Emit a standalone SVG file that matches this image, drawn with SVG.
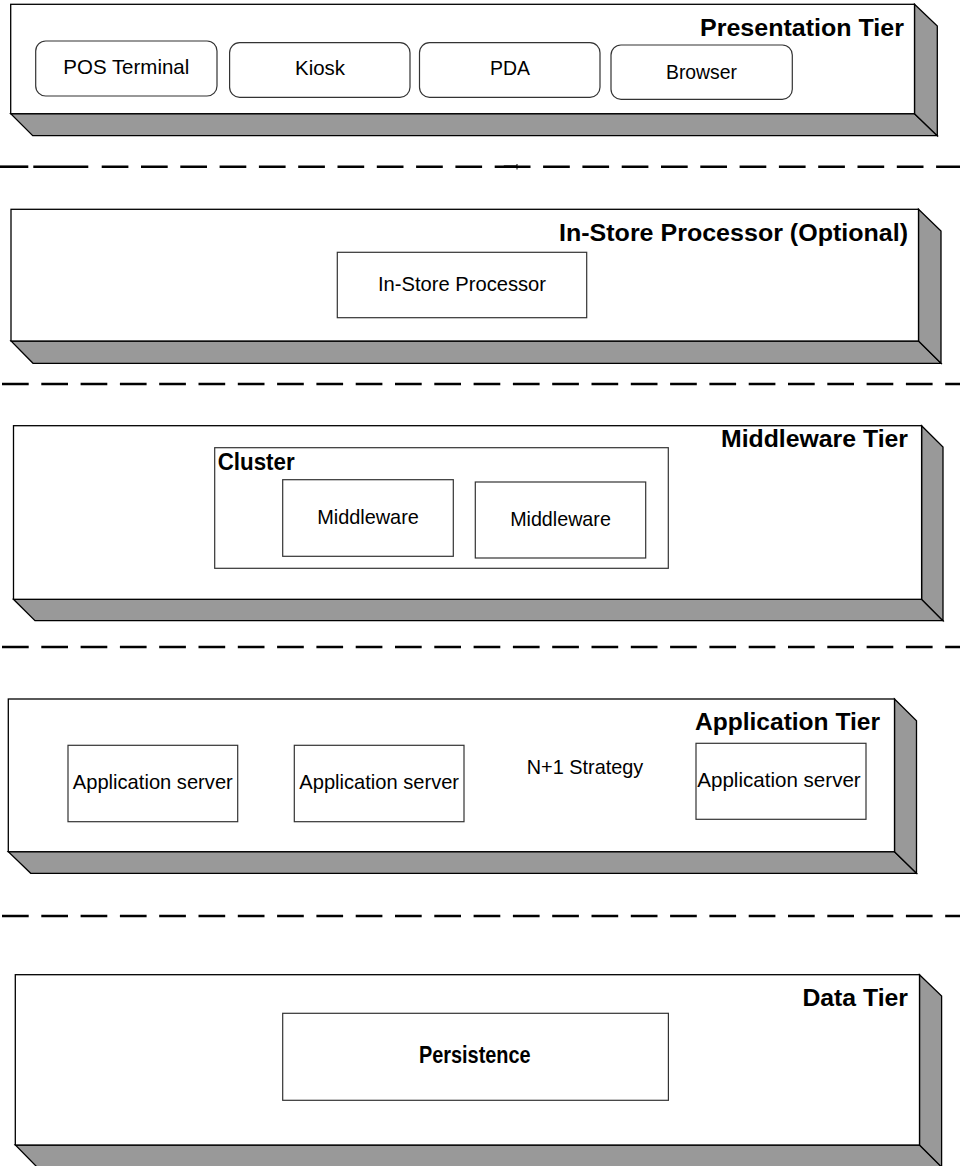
<svg xmlns="http://www.w3.org/2000/svg" width="960" height="1166" viewBox="0 0 960 1166">
<style>
.face{fill:#fff;stroke:#000;stroke-width:1.3}
.shade{fill:#999;stroke:#000;stroke-width:1.3;stroke-linejoin:miter}
.box{fill:#fff;stroke:#333;stroke-width:1.2}
.lbl{font-family:"Liberation Sans",Arial,sans-serif;font-size:21px;fill:#000;text-anchor:middle}
.ttl{font-family:"Liberation Sans",Arial,sans-serif;font-size:23px;font-weight:bold;fill:#000}
.sep{stroke:#000;stroke-width:2.6;fill:none}
.dash{stroke-dasharray:26.7 12.6}
</style>
<rect x="0" y="0" width="960" height="1166" fill="#fff"/>

<g id="tier-presentation">
  <polygon class="shade" points="10.7,113.7 914.5,113.7 937.3,135.7 32.7,135.7"/>
  <polygon class="shade" points="914.5,4.3 937.3,26 937.3,135.7 914.5,113.7"/>
  <rect class="face" x="10.7" y="4.3" width="903.8" height="109.4"/>
  <text class="ttl" x="700" y="36" textLength="204" lengthAdjust="spacingAndGlyphs">Presentation Tier</text>
</g>
<g id="node-pos"><rect class="box" x="35.7" y="41" width="181.3" height="55" rx="10"/><text class="lbl" x="126.3" y="74" textLength="126" lengthAdjust="spacingAndGlyphs">POS Terminal</text></g>
<g id="node-kiosk"><rect class="box" x="229.6" y="42.7" width="180.4" height="54.6" rx="10"/><text class="lbl" x="320" y="75.3" textLength="50" lengthAdjust="spacingAndGlyphs">Kiosk</text></g>
<g id="node-pda"><rect class="box" x="419.5" y="42.7" width="180.5" height="54.6" rx="10"/><text class="lbl" x="510" y="75.3" textLength="40" lengthAdjust="spacingAndGlyphs">PDA</text></g>
<g id="node-browser"><rect class="box" x="611" y="45" width="181.3" height="54.3" rx="10"/><text class="lbl" x="701.5" y="78.5" textLength="71" lengthAdjust="spacingAndGlyphs">Browser</text></g>

<g id="tier-instore">
  <polygon class="shade" points="11,341 918.5,341 941,363.3 33,363.3"/>
  <polygon class="shade" points="918.5,209.3 941,231 941,363.3 918.5,341"/>
  <rect class="face" x="11" y="209.3" width="907.5" height="131.7"/>
  <text class="ttl" x="559" y="241" textLength="349" lengthAdjust="spacingAndGlyphs">In-Store Processor (Optional)</text>
</g>
<g id="node-instore"><rect class="box" x="337.3" y="252.3" width="249.4" height="65.4"/><text class="lbl" x="462" y="291" textLength="168" lengthAdjust="spacingAndGlyphs">In-Store Processor</text></g>

<g id="tier-middleware">
  <polygon class="shade" points="13.5,599.3 921.6,599.3 943,620.7 35,620.7"/>
  <polygon class="shade" points="921.6,425.7 943,447 943,620.7 921.6,599.3"/>
  <rect class="face" x="13.5" y="425.7" width="908.1" height="173.6"/>
  <text class="ttl" x="721" y="447" textLength="187" lengthAdjust="spacingAndGlyphs">Middleware Tier</text>
</g>
<g id="node-cluster">
  <rect class="box" x="214.7" y="447.7" width="453.6" height="120.6" stroke-width="1"/>
  <text class="ttl" x="217.7" y="470" font-size="22" textLength="77" lengthAdjust="spacingAndGlyphs">Cluster</text>
</g>
<g id="node-middleware-1"><rect class="box" x="282.7" y="479.7" width="170.6" height="76.6"/><text class="lbl" x="368" y="524.3" textLength="101.7" lengthAdjust="spacingAndGlyphs">Middleware</text></g>
<g id="node-middleware-2"><rect class="box" x="475.3" y="482" width="170.4" height="76"/><text class="lbl" x="560.5" y="526.3" textLength="100.7" lengthAdjust="spacingAndGlyphs">Middleware</text></g>

<g id="tier-application">
  <polygon class="shade" points="8.3,851.7 894.5,851.7 916.5,873.3 30.7,873.3"/>
  <polygon class="shade" points="894.5,699 916.5,720.7 916.5,873.3 894.5,851.7"/>
  <rect class="face" x="8.3" y="699" width="886.2" height="152.7"/>
  <text class="ttl" x="695" y="730" textLength="185" lengthAdjust="spacingAndGlyphs">Application Tier</text>
  <text class="lbl" x="585" y="774.3" textLength="116.6" lengthAdjust="spacingAndGlyphs">N+1 Strategy</text>
</g>
<g id="node-app-1"><rect class="box" x="68" y="745.3" width="169.7" height="76.4"/><text class="lbl" x="152.8" y="789" textLength="160" lengthAdjust="spacingAndGlyphs">Application server</text></g>
<g id="node-app-2"><rect class="box" x="294.3" y="745.3" width="169.7" height="76.4"/><text class="lbl" x="379.2" y="789" textLength="159.7" lengthAdjust="spacingAndGlyphs">Application server</text></g>
<g id="node-app-3"><rect class="box" x="696" y="743.3" width="170" height="76"/><text class="lbl" x="779" y="786.7" textLength="163.4" lengthAdjust="spacingAndGlyphs">Application server</text></g>

<g id="tier-data">
  <polygon class="shade" points="15.3,1145 919.5,1145 941.6,1167 37,1167"/>
  <polygon class="shade" points="919.5,974.7 941.6,996 941.6,1167 919.5,1145"/>
  <rect class="face" x="15.3" y="974.7" width="904.2" height="170.3"/>
  <text class="ttl" x="802.4" y="1006" textLength="105.6" lengthAdjust="spacingAndGlyphs">Data Tier</text>
</g>
<g id="node-persistence"><rect class="box" x="282.7" y="1013.3" width="385.7" height="87"/><text class="ttl" x="419" y="1062.7" font-size="19" textLength="111.6" lengthAdjust="spacingAndGlyphs">Persistence</text></g>

<g id="separators">
  <line class="sep" x1="0" y1="166.7" x2="28.3" y2="166.7"/>
  <line class="sep" x1="33.3" y1="166.7" x2="88.3" y2="166.7"/>
  <line class="sep dash" x1="101.7" y1="166.7" x2="517" y2="166.7"/>
  <line class="sep dash" x1="503.8" y1="166.7" x2="960" y2="166.7"/>
  <line stroke="#000" stroke-width="1" x1="517" y1="164" x2="517" y2="169.5"/>
  <line class="sep dash" x1="2" y1="384" x2="960" y2="384"/>
  <line class="sep dash" x1="2" y1="647" x2="960" y2="647"/>
  <line class="sep dash" x1="2" y1="916" x2="960" y2="916"/>
</g>
</svg>
